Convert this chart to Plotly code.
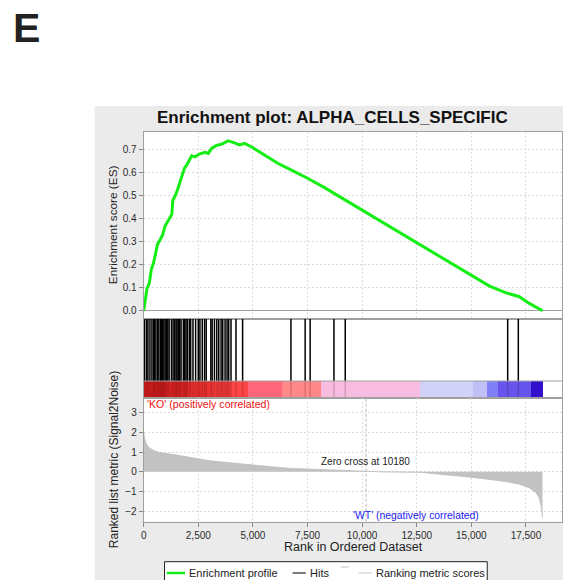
import plotly.graph_objects as go

W, H = 563, 580

# ---------------- data ----------------
es_rank = [0, 76, 150, 258, 350, 455, 530, 636, 758, 864, 985, 1136, 1288, 1333, 1440,
           1560, 1667, 1773, 1864, 1970, 2076, 2197, 2348, 2500, 2651, 2803, 2954, 3106,
           3333, 3560, 3712, 3864, 4091, 4394, 4621, 4924, 5530, 6136, 6742, 7500, 8258,
           9015, 9773, 10530, 11288, 12045, 12803, 13560, 14318, 15076, 15833, 16591,
           17197, 17652, 18258]
es_score = [0.0, 0.046, 0.097, 0.12, 0.18, 0.21, 0.25, 0.29, 0.31, 0.33, 0.37, 0.395, 0.42,
            0.48, 0.50, 0.53, 0.56, 0.59, 0.62, 0.635, 0.655, 0.675, 0.67, 0.68, 0.685, 0.69,
            0.685, 0.707, 0.72, 0.725, 0.732, 0.74, 0.733, 0.722, 0.729, 0.714, 0.678, 0.642,
            0.613, 0.577, 0.537, 0.494, 0.453, 0.41, 0.366, 0.322, 0.279, 0.235, 0.192, 0.148,
            0.107, 0.078, 0.061, 0.032, 0.0]

hit_ranks = [44, 135, 195, 286, 377, 453, 498, 559, 635, 695, 771, 816, 862, 923, 983, 1044,
             1104, 1165, 1271, 1347, 1422, 1483, 1529, 1589, 1650, 1710, 1816, 1877, 1938,
             1998, 2089, 2150, 2256, 2377, 2498, 2574, 2680, 2786, 2862, 3074, 3134, 3240,
             3346, 3437, 3543, 3619, 3725, 3816, 3892, 3998, 4225, 4528, 6741, 7392, 7620,
             8710, 9227, 16664, 17150]

metric_rank = [0, 45, 121, 227, 455, 682, 1439, 2197, 2954, 3712, 4470, 5227, 5985, 6742,
               7500, 8258, 9015, 9773, 10180, 11000, 12650, 13560, 14318, 15076, 15833,
               16591, 17197, 17652, 17955, 18106, 18212, 18258]
metric_value = [2.02, 1.68, 1.42, 1.25, 1.08, 0.99, 0.86, 0.70, 0.57, 0.48, 0.39, 0.31, 0.24,
                0.17, 0.14, 0.10, 0.07, 0.03, 0.0, -0.01, -0.03, -0.12, -0.20, -0.29, -0.39,
                -0.50, -0.63, -0.81, -1.06, -1.32, -1.84, -2.35]

band_start = [0, 1000, 2000, 3000, 4000, 4773, 6318, 8106, 12650, 15076, 15682, 16212, 17727]
band_end = [1000, 2000, 3000, 4000, 4773, 6318, 8106, 12650, 15076, 15682, 16212, 17727, 18258]
band_color = ["#d61f1f", "#e22727", "#ec3030", "#f53a3a", "#fc4545", "#ff6679", "#ff8888",
              "#f8bce0", "#d2d2f8", "#c0c0f6", "#8080f6", "#6654ec", "#3310cc"]

zero_cross = 10180
x_tick_vals = [0, 2500, 5000, 7500, 10000, 12500, 15000, 17500]
x_tick_text = ["0", "2,500", "5,000", "7,500", "10,000", "12,500", "15,000", "17,500"]
es_tick_vals = [0.0, 0.1, 0.2, 0.3, 0.4, 0.5, 0.6, 0.7]
metric_tick_vals = [-2, -1, 0, 1, 2, 3]

# ---------------- layout helpers ----------------
def px(x):
    return x / W

def py(y):
    return 1 - y / H

FONT = "Liberation Sans, Arial, sans-serif"
X_RANGE = [0, 19150]
X_DOM = [px(141.7), 1.0]
BAND_TOP = 0.215  # fraction of hits axis occupied by the colour band

fig = go.Figure()

# ES curve
fig.add_trace(go.Scatter(x=es_rank, y=es_score, mode="lines", xaxis="x", yaxis="y",
                         line=dict(color="#14ee14", width=3), showlegend=False,
                         hoverinfo="skip"))

# colour band
fig.add_trace(go.Bar(orientation="h", base=band_start,
                     x=[e - s for s, e in zip(band_start, band_end)],
                     y=[BAND_TOP / 2] * len(band_start), width=BAND_TOP,
                     marker=dict(color=band_color, line=dict(width=0)),
                     xaxis="x2", yaxis="y2", showlegend=False, hoverinfo="skip"))

# hits
hx, hy, sx, sy = [], [], [], []
for h in hit_ranks:
    hx += [h, h, None]
    hy += [BAND_TOP, 1, None]
    sx += [h, h, None]
    sy += [0, BAND_TOP, None]
fig.add_trace(go.Scatter(x=hx, y=hy, mode="lines", xaxis="x2", yaxis="y2",
                         line=dict(color="black", width=1.5), showlegend=False,
                         hoverinfo="skip"))
fig.add_trace(go.Scatter(x=sx, y=sy, mode="lines", xaxis="x2", yaxis="y2",
                         line=dict(color="rgba(60,0,0,0.18)", width=1.5), showlegend=False,
                         hoverinfo="skip"))

# ranked metric
fig.add_trace(go.Scatter(x=metric_rank, y=metric_value, mode="lines", fill="tozeroy",
                         fillcolor="#c2c2c2", line=dict(color="#bdbdbd", width=0.8),
                         xaxis="x3", yaxis="y3", showlegend=False, hoverinfo="skip"))
# zero cross marker line
fig.add_trace(go.Scatter(x=[zero_cross, zero_cross], y=[-2.54, 3.75], mode="lines",
                         line=dict(color="#b8b8b8", width=1, dash="3px,2px"),
                         xaxis="x3", yaxis="y3", showlegend=False, hoverinfo="skip"))

grid = dict(showgrid=True, gridcolor="#dcdcdc", griddash="2px,2px", gridwidth=1)
line = dict(showline=True, linecolor="#a0a0a0", linewidth=1, mirror=True)
tickfont = dict(family=FONT, size=10, color="#2a2a2a")

fig.update_layout(
    width=W, height=H, margin=dict(l=0, r=0, t=0, b=0),
    paper_bgcolor="#ebebeb", plot_bgcolor="white",
    xaxis=dict(domain=X_DOM, range=X_RANGE, anchor="y", showticklabels=False,
               ticks="", tickvals=x_tick_vals, zeroline=False, **grid, **line),
    yaxis=dict(domain=[py(319), py(131.7)], range=[-0.036, 0.7796], anchor="x",
               tickvals=es_tick_vals, tickformat=".1f", ticks="outside", ticklen=4,
               tickcolor="#888888", tickfont=tickfont, zeroline=True,
               zerolinecolor="#a0a0a0", zerolinewidth=1, **grid, **line),
    xaxis2=dict(domain=X_DOM, range=X_RANGE, anchor="y2", showticklabels=False,
                ticks="", showgrid=False, zeroline=False, **line),
    yaxis2=dict(domain=[py(398), py(319)], range=[0, 1], anchor="x2",
                showticklabels=False, ticks="", showgrid=False, zeroline=False, **line),
    xaxis3=dict(domain=X_DOM, range=X_RANGE, anchor="y3", tickvals=x_tick_vals,
                ticktext=x_tick_text, ticks="outside", ticklen=4, tickcolor="#888888",
                tickfont=tickfont, zeroline=False, **grid, **line),
    yaxis3=dict(domain=[py(521.7), py(398)], range=[-2.54, 3.75], anchor="x3",
                tickvals=metric_tick_vals, ticks="outside", ticklen=4,
                tickcolor="#888888", tickfont=tickfont, zeroline=False, **grid, **line),
    bargap=0,
)

shapes = [
    # white page outside the grey chart panel
    dict(type="rect", xref="paper", yref="paper", x0=-0.01, x1=px(92.3), y0=-0.01, y1=1.01,
         fillcolor="white", line=dict(width=0), layer="below"),
    dict(type="rect", xref="paper", yref="paper", x0=-0.01, x1=1.01, y0=py(106), y1=1.01,
         fillcolor="white", line=dict(width=0), layer="below"),
    # separator between hits and colour band
    dict(type="line", xref="x2 domain", yref="y2", x0=0, x1=1, y0=BAND_TOP, y1=BAND_TOP,
         line=dict(color="#a0a0a0", width=1)),
    # legend frame
    dict(type="rect", xref="paper", yref="paper", x0=px(162.7), x1=px(487.7),
         y0=py(600), y1=py(561.7), fillcolor="white", line=dict(color="#222222", width=1)),
    # legend symbols
    dict(type="line", xref="paper", yref="paper", x0=px(165), x1=px(183.3), y0=py(573),
         y1=py(573), line=dict(color="#14ee14", width=2.5)),
    dict(type="line", xref="paper", yref="paper", x0=px(291.7), x1=px(305), y0=py(573),
         y1=py(573), line=dict(color="#222222", width=1.2)),
    dict(type="line", xref="paper", yref="paper", x0=px(340), x1=px(348.3), y0=py(567),
         y1=py(567), line=dict(color="#c8c8c8", width=1)),
    dict(type="line", xref="paper", yref="paper", x0=px(358), x1=px(371.7), y0=py(573),
         y1=py(573), line=dict(color="#c8c8c8", width=1)),
]
fig.update_layout(shapes=shapes)

LEG = 11
ann = [
    dict(text="<b>E</b>", x=px(8), y=py(28), xanchor="left", yanchor="middle",
         font=dict(family=FONT, size=41, color="#222222")),
    dict(text="<b>Enrichment plot: ALPHA_CELLS_SPECIFIC</b>", x=px(332), y=py(117),
         xanchor="center", yanchor="middle", font=dict(family=FONT, size=17, color="#111111")),
    dict(text="Enrichment score (ES)", x=px(111), y=py(225), textangle=-90,
         xanchor="center", yanchor="middle", font=dict(family=FONT, size=11.8, color="#222222")),
    dict(text="Ranked list metric (Signal2Noise)", x=px(112), y=py(460), textangle=-90,
         xanchor="center", yanchor="middle", font=dict(family=FONT, size=12, color="#222222")),
    dict(text="Rank in Ordered Dataset", x=px(353), y=py(547), xanchor="center",
         yanchor="middle", font=dict(family=FONT, size=12.5, color="#222222")),
    dict(text="'KO' (positively correlated)", x=px(143), y=py(404), xanchor="left",
         yanchor="middle", font=dict(family=FONT, size=10.6, color="#ee1111")),
    dict(text="'WT' (negatively correlated)", x=px(416), y=py(515), xanchor="center",
         yanchor="middle", font=dict(family=FONT, size=10.4, color="#1a1aee")),
    dict(text="Zero cross at " + str(zero_cross), x=px(365), y=py(461), xanchor="center",
         yanchor="middle", font=dict(family=FONT, size=10, color="#222222")),
    dict(text="Enrichment profile", x=px(185), y=py(573), xanchor="left", yanchor="middle",
         font=dict(family=FONT, size=LEG, color="#222222")),
    dict(text="Hits", x=px(306.7), y=py(573), xanchor="left", yanchor="middle",
         font=dict(family=FONT, size=LEG, color="#222222")),
    dict(text="Ranking metric scores", x=px(374), y=py(573), xanchor="left",
         yanchor="middle", font=dict(family=FONT, size=LEG, color="#222222")),
]
for a in ann:
    a.update(xref="paper", yref="paper", showarrow=False)
fig.update_layout(annotations=ann)

fig.write_html("out.html", config={"displayModeBar": False},
               post_script="document.body.style.margin='0';document.body.style.padding='0';")
